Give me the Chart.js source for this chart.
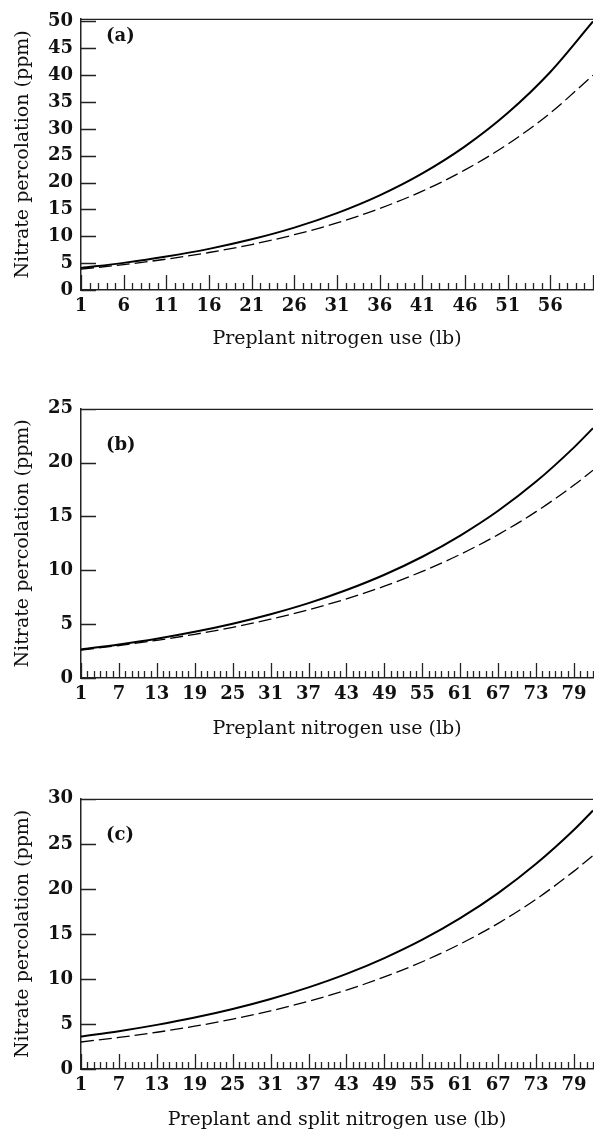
<!DOCTYPE html>
<html>
<head>
<meta charset="utf-8">
<script src="https://cdn.jsdelivr.net/npm/chart.js@4.4.0/dist/chart.umd.min.js"></script>
<style>
    html, body { margin: 0; background: #fff; overflow: hidden; }
    body { width: 594px; height: 1131px; position: relative; }
    canvas { position: absolute; left: 0; }
</style>
</head>
<body>
<canvas id="chartA" width="599" height="350" style="top:0px"></canvas>
<canvas id="chartB" width="599" height="350" style="top:390px"></canvas>
<canvas id="chartC" width="599" height="351" style="top:780px"></canvas>
<script>
// Panel (a) - preplant nitrogen, 1..61 lb
const xA = [1, 6, 11, 16, 21, 26, 31, 36, 41, 46, 51, 56, 61];
const solidA = [4.1, 5.05, 6.22, 7.66, 9.44, 11.62, 14.32, 17.63, 21.72, 26.75, 32.95, 40.59, 50.0];
const dashedA = [3.9, 4.73, 5.75, 6.98, 8.47, 10.29, 12.49, 15.17, 18.41, 22.36, 27.14, 32.96, 40.0];

// Panel (b) - preplant nitrogen, 1..82 lb
const xB = [1, 7, 13, 19, 25, 31, 37, 43, 49, 55, 61, 67, 73, 79, 82];
const solidB = [2.65, 3.11, 3.65, 4.29, 5.04, 5.92, 6.95, 8.17, 9.59, 11.26, 13.23, 15.53, 18.24, 21.42, 23.2];
const dashedB = [2.6, 3.02, 3.50, 4.06, 4.71, 5.46, 6.34, 7.35, 8.53, 9.90, 11.48, 13.32, 15.45, 17.92, 19.3];

// Panel (c) - preplant and split nitrogen, 1..82 lb
const xC = [1, 7, 13, 19, 25, 31, 37, 43, 49, 55, 61, 67, 73, 79, 82];
const solidC = [3.6, 4.20, 4.90, 5.71, 6.66, 7.77, 9.06, 10.56, 12.32, 14.36, 16.75, 19.53, 22.78, 26.56, 28.7];
const dashedC = [3.0, 3.50, 4.08, 4.75, 5.54, 6.45, 7.52, 8.76, 10.22, 11.91, 13.88, 16.17, 18.85, 21.97, 23.7];

const yTitle = 'Nitrate percolation (ppm)';
const serif = '"DejaVu Serif", "Liberation Serif", serif';

// draws inward tick marks, the top rule and the panel letter
const framePlugin = {
    id: 'frame',
    afterDraw(chart, args, opts) {
        const { ctx, chartArea: a } = chart;
        const x = chart.scales.x, y = chart.scales.y;
        ctx.save();
        ctx.strokeStyle = '#222';
        ctx.lineWidth = 1.3;
        ctx.beginPath();
        x.ticks.forEach(t => {
            const px = Math.round(x.getPixelForValue(t.value)) + 0.5;
            const major = (t.value - x.min) % opts.major === 0;
            const len = major ? 15 : 7;
            ctx.moveTo(px, a.bottom);
            ctx.lineTo(px, a.bottom - len);
        });
        y.ticks.forEach(t => {
            const py = Math.round(y.getPixelForValue(t.value)) + 0.5;
            ctx.moveTo(a.left, py);
            ctx.lineTo(a.left + 15, py);
        });
        ctx.moveTo(a.left, a.top + 0.5);
        ctx.lineTo(a.right, a.top + 0.5);
        ctx.stroke();

        ctx.font = 'bold 18px ' + serif;
        ctx.fillStyle = '#111';
        ctx.textBaseline = 'middle';
        ctx.fillText(opts.label, a.left + 25, a.top + opts.labelDy);
        ctx.restore();
    }
};

function makeChart(id, p) {
    const solid = p.xs.map((v, i) => ({ x: v, y: p.solid[i] }));
    const dashed = p.xs.map((v, i) => ({ x: v, y: p.dashed[i] }));
    const H = document.getElementById(id).height;

    return new Chart(document.getElementById(id), {
        type: 'line',
        data: {
            datasets: [
                { data: solid, borderColor: '#000', borderWidth: 2, pointRadius: 0, cubicInterpolationMode: 'monotone' },
                { data: dashed, borderColor: '#000', borderWidth: 1.3, borderDash: [13, 5], pointRadius: 0, cubicInterpolationMode: 'monotone' }
            ]
        },
        options: {
            responsive: false,
            animation: false,
            layout: { padding: { top: p.top, right: 0, left: 0, bottom: 0 } },
            plugins: {
                legend: { display: false },
                tooltip: { enabled: false },
                frame: { label: p.label, labelDy: p.labelDy, major: p.xMajor }
            },
            scales: {
                x: {
                    type: 'linear',
                    min: p.xMin,
                    max: p.xMax,
                    grid: { display: false, drawTicks: false, tickLength: 0 },
                    border: { display: true, color: '#222', width: 1.5 },
                    ticks: {
                        stepSize: 1,
                        autoSkip: false,
                        maxRotation: 0,
                        padding: 6,
                        color: '#111',
                        font: { family: serif, size: 18, weight: 'bold' },
                        callback: v => ((v - p.xMin) % p.xMajor === 0 && v !== p.xMax ? String(v) : '')
                    },
                    title: {
                        display: true,
                        text: p.xTitle,
                        color: '#111',
                        font: { family: serif, size: 19 },
                        padding: { top: p.xTitlePad, bottom: 0 }
                    },
                    afterFit: s => { s.height = H - p.bottom; }
                },
                y: {
                    min: 0,
                    max: p.yMax,
                    grid: { display: false, drawTicks: false, tickLength: 0 },
                    border: { display: true, color: '#222', width: 1.5 },
                    ticks: {
                        stepSize: 5,
                        includeBounds: false,
                        padding: 8,
                        color: '#111',
                        font: { family: serif, size: 18, weight: 'bold' }
                    },
                    title: {
                        display: true,
                        text: yTitle,
                        color: '#111',
                        font: { family: serif, size: 19 },
                        padding: { top: 12, bottom: 0 }
                    },
                    afterFit: s => { s.width = 81; }
                }
            }
        },
        plugins: [framePlugin]
    });
}

makeChart('chartA', {
    xs: xA, solid: solidA, dashed: dashedA,
    xMin: 1, xMax: 61, xMajor: 5, yMax: 50.5,
    top: 13, bottom: 290, label: '(a)', labelDy: 18, xTitlePad: 2,
    xTitle: 'Preplant nitrogen use (lb)'
});
makeChart('chartB', {
    xs: xB, solid: solidB, dashed: dashedB,
    xMin: 1, xMax: 82, xMajor: 6, yMax: 25,
    top: 14, bottom: 288, label: '(b)', labelDy: 37, xTitlePad: 2,
    xTitle: 'Preplant nitrogen use (lb)'
});
makeChart('chartC', {
    xs: xC, solid: solidC, dashed: dashedC,
    xMin: 1, xMax: 82, xMajor: 6, yMax: 30,
    top: 17, bottom: 289, label: '(c)', labelDy: 37, xTitlePad: 5,
    xTitle: 'Preplant and split nitrogen use (lb)'
});
</script>
</body>
</html>
